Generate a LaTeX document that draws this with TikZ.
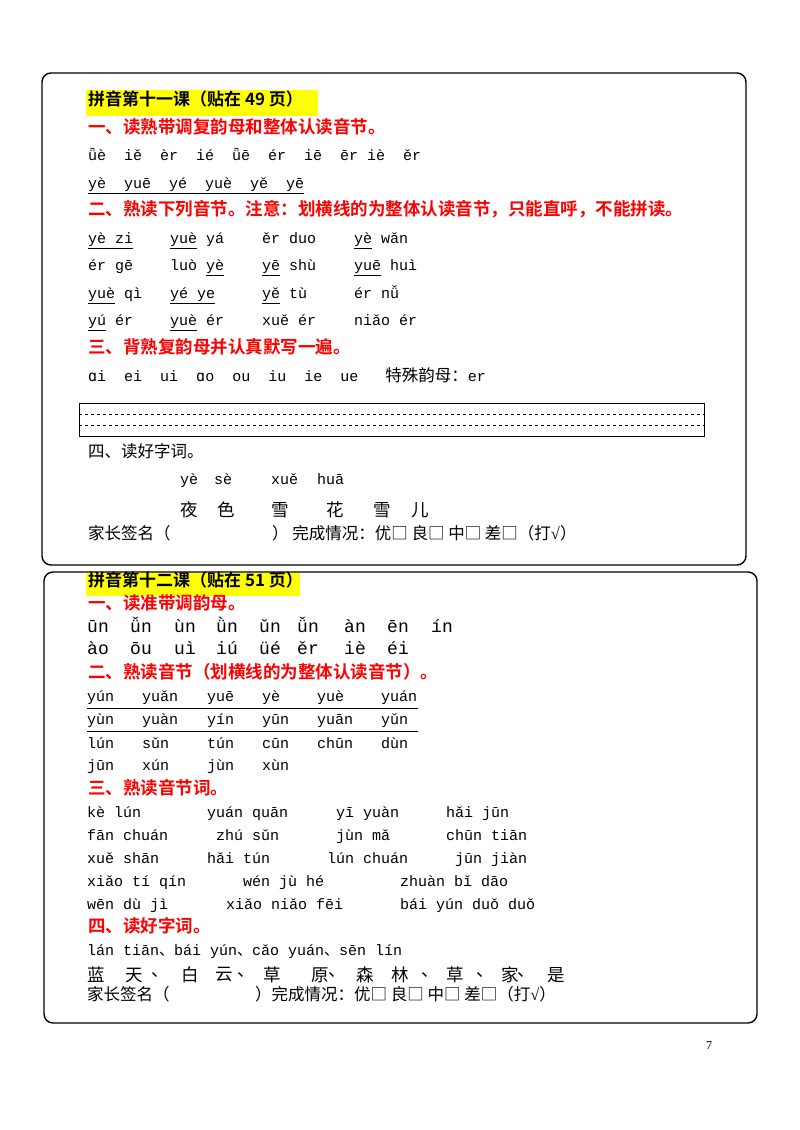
\documentclass[tikz,border=0pt]{standalone}
\usepackage{fontspec}
\setmainfont{Liberation Serif}
\newfontfamily\pymono{Liberation Mono}
\newfontfamily\djm{DejaVu Sans Mono}
\newfontfamily\cjk{Noto Sans CJK SC}
\newfontfamily\cjkb{Noto Sans CJK SC Bold}
\usetikzlibrary{positioning}
\definecolor{hired}{RGB}{255,0,0}
\definecolor{hiyel}{RGB}{255,255,0}
\begin{document}
\begin{tikzpicture}[x=1pt,y=-1pt,
    base/.style={anchor=west, inner sep=0pt, text height=1.5ex, text depth=0.4ex},
    txt/.style={base, font=\pymono\fontsize{15pt}{17pt}\selectfont},
    big/.style={base, font=\pymono\fontsize{18pt}{20pt}\selectfont},
    cn/.style={base, font=\cjk\fontsize{16.5pt}{18pt}\selectfont},
    cnb/.style={anchor=center, inner sep=0pt, font=\cjk\fontsize{17.5pt}{19pt}\selectfont},
    head/.style={base, text=hired, font=\cjkb\fontsize{17.5pt}{19pt}\selectfont},
    title/.style={base, font=\cjkb\fontsize{17pt}{19pt}\selectfont},
    card/.style={draw, line width=1.4pt, rounded corners=9pt}
]
\useasboundingbox (0,0) rectangle (800,1130);
%
% lesson 11
\draw[card] (42,73) rectangle (746,565);
\fill[hiyel] (86,90) rectangle (318,116);
\node[title] (t1) at (88,103) {拼音第十一课（贴在 49 页）};
\node[head] (h11) at (88,131) {一、读熟带调复韵母和整体认读音节。};
\node[txt] at (88,158) {ǖè\ \ iě\ \ èr\ \ ié\ \ ǖē\ \ ér\ \ iē\ \ ēr iè\ \ ěr};
\node[txt] at (88,186) {\underline{yè\ \ yuē\ \ yé\ \ yuè\ \ yě\ \ yē}};
\node[head] (h12) at (88,213) {二、熟读下列音节。注意：划横线的为整体认读音节，只能直呼，不能拼读。};
\node[txt] at (88,241) {\underline{yè zi}};
\node[txt] at (170,241) {\underline{yuè} yá};
\node[txt] at (262,241) {ěr duo};
\node[txt] at (354,241) {\underline{yè} wǎn};
\node[txt] at (88,268) {ér gē};
\node[txt] at (170,268) {luò \underline{yè}};
\node[txt] at (262,268) {\underline{yē} shù};
\node[txt] at (354,268) {\underline{yuē} huì};
\node[txt] at (88,296) {\underline{yuè} qì};
\node[txt] at (170,296) {\underline{yé ye}};
\node[txt] at (262,296) {\underline{yě} tù};
\node[txt] at (354,296) {ér nǚ};
\node[txt] at (88,323) {\underline{yú} ér};
\node[txt] at (170,323) {\underline{yuè} ér};
\node[txt] at (262,323) {xuě ér};
\node[txt] at (354,323) {niǎo ér};
\node[head] (h13) at (88,351) {三、背熟复韵母并认真默写一遍。};
\node[txt] at (88,379) {{\djm ɑ}i\ \ ei\ \ ui\ \ {\djm ɑ}o\ \ ou\ \ iu\ \ ie\ \ ue\ \ \ {\cjk\fontsize{16.5pt}{18pt}\selectfont 特殊韵母：}er};
% writing band
\draw[line width=0.6pt] (79,403) rectangle (704,436);
\draw[dashed, line width=0.5pt] (79,414) -- (704,414);
\draw[dashed, line width=0.5pt] (79,425) -- (704,425);
\node[cn] (h14) at (88,455) {四、读好字词。};
\node[txt] at (180,482) {yè};
\node[txt] at (214,482) {sè};
\node[txt] at (271,482) {xuě};
\node[txt] at (317,482) {huā};
\foreach \c/\x in {夜/189,色/226,雪/280,花/335,雪/382,儿/420}
  \node[cnb] at (\x,510) {\c};
\node[cn] (s1) at (88,537) {家长签名（};
\node[cn] at (272,537) {）\ 完成情况：优□ 良□ 中□ 差□（打{\rmfamily √}）};
%
% lesson 12
\draw[card] (44,572) rectangle (757,1023);
\fill[hiyel] (86,573) rectangle (300,596);
\node[title] (t2) at (88,584) {拼音第十二课（贴在 51 页）};
\node[head] (h21) at (88,607) {一、读准带调韵母。};
\foreach \s/\x in {ūn/87,ǚn/130,ùn/174,ǜn/216,ǔn/259,ǚn/297,àn/344,ēn/387,ín/431}
  \node[big] at (\x,630) {\s};
\foreach \s/\x in {ào/87,ōu/130,uì/174,iú/216,üé/259,ěr/297,iè/344,éi/387}
  \node[big] at (\x,652) {\s};
\node[head] (h22) at (88,676) {二、熟读音节（划横线的为整体认读音节）。};
\foreach \s/\x in {yún/87,yuǎn/142,yuē/207,yè/262,yuè/317,yuán/381}
  \node[txt] at (\x,699) {\s};
\foreach \s/\x in {yùn/87,yuàn/142,yín/207,yūn/262,yuān/317,yǔn/381}
  \node[txt] at (\x,722) {\s};
\draw[line width=0.8pt] (87,708) -- (418,708);
\draw[line width=0.8pt] (87,731) -- (418,731);
\foreach \s/\x in {lún/87,sǔn/142,tún/207,cūn/262,chūn/317,dùn/381}
  \node[txt] at (\x,746) {\s};
\foreach \s/\x in {jūn/87,xún/142,jùn/207,xùn/262}
  \node[txt] at (\x,768) {\s};
\node[head] (h23) at (88,792) {三、熟读音节词。};
\foreach \s/\x in {kè lún/87,yuán quān/207,yī yuàn/336,hǎi jūn/446}
  \node[txt] at (\x,815) {\s};
\foreach \s/\x in {fān chuán/87,zhú sǔn/216,jùn mǎ/336,chūn tiān/446}
  \node[txt] at (\x,838) {\s};
\foreach \s/\x in {xuě shān/87,hǎi tún/207,lún chuán/327,jūn jiàn/455}
  \node[txt] at (\x,861) {\s};
\foreach \s/\x in {xiǎo tí qín/87,wén jù hé/243,zhuàn bǐ dāo/400}
  \node[txt] at (\x,884) {\s};
\foreach \s/\x in {wēn dù jì/87,xiǎo niǎo fēi/226,bái yún duǒ duǒ/400}
  \node[txt] at (\x,907) {\s};
\node[head] (h24) at (88,930) {四、读好字词。};
\node[txt] at (87,953) {lán tiān{\cjk 、}bái yún{\cjk 、}cǎo yuán{\cjk 、}sēn lín};
\foreach \c/\x in {蓝/96,天/134,、/160,白/190,云/224,、/246,草/272,原/320,、/337,森/365,林/400,、/430,草/455,、/485,家/510,、/526,是/556}
  \node[cnb] at (\x,975) {\c};
\node[cn] (s2) at (87,998) {家长签名（};
\node[cn] at (255,998) {）完成情况：优□ 良□ 中□ 差□（打{\rmfamily √}）};
%
\node[inner sep=0pt, font=\fontsize{12pt}{14pt}\selectfont] (pg) at (709,1046) {7};
\end{tikzpicture}
\end{document}
